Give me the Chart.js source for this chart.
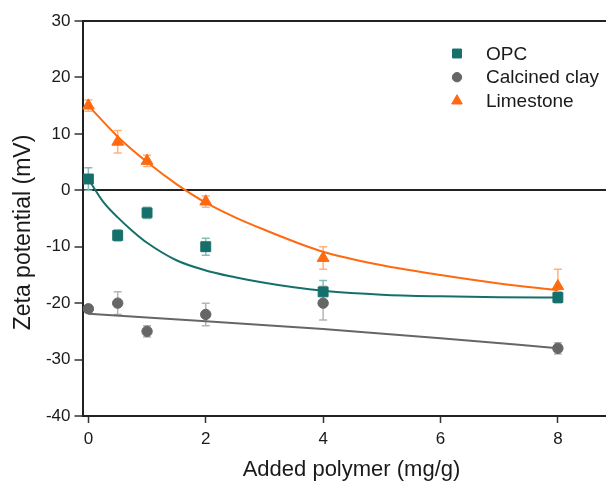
<!DOCTYPE html>
<html>
<head>
<meta charset="utf-8">
<script src="https://cdn.jsdelivr.net/npm/chart.js@4/dist/chart.umd.min.js"></script>
<style>
  html, body { margin: 0; padding: 0; background: #fff; }
  #wrap { width: 606px; height: 482px; position: relative; }
</style>
</head>
<body>
<div id="wrap"><canvas id="c" width="606" height="482"></canvas></div>
<script>
// Polymer dosage (mg/g) at which zeta potential was measured
const doses = [0, 0.5, 1, 2, 4, 8];

// Measured zeta potential (mV) and standard deviation for each powder
const opcZeta   = [2, -8, -4, -10, -18, -19];
const opcErr    = [2, 1, 1, 1.5, 2, 1];
const clayZeta  = [-21, -20, -25, -22, -20, -28];
const clayErr   = [0.6, 2, 1, 2, 3, 1];
const limeZeta  = [15, 8.6, 5.2, -2, -12, -17];
const limeErr   = [1, 2, 1, 1, 2, 3];

// Fitted trend curves
const opcFitX  = [0, 0.25, 0.5, 0.75, 1, 1.5, 2, 2.5, 3, 3.5, 4, 5, 6, 7, 8];
const opcFitY  = [2, -2, -4.8, -7.2, -9.3, -12.4, -14.2, -15.4, -16.4, -17.2, -17.8, -18.5, -18.8, -18.95, -19];
const clayFitX = [0, 2, 4, 6, 8];
const clayFitY = [-21.9, -23.2, -24.6, -26.2, -28];
const limeFitX = [0, 0.5, 1, 1.5, 2, 2.5, 3, 4, 5, 6, 7, 8];
const limeFitY = [15, 9.5, 5, 1.1, -2.2, -4.8, -7, -10.9, -13.3, -15, -16.5, -17.7];

// Axis ticks
const xTicks = [0, 2, 4, 6, 8];
const yTicks = [-40, -30, -20, -10, 0, 10, 20, 30];

const seriesNames = ['OPC', 'Calcined clay', 'Limestone'];

const FONT = "'Liberation Sans', Arial, Helvetica, sans-serif";
const TEAL = '#15706b', TEAL_ERR = '#86bbb8';
const GRAY = '#666666', GRAY_ERR = '#b5b5b5';
const ORANGE = '#ff6a10', ORANGE_ERR = '#ffb27e';

const pts = (xs, ys) => xs.map((x, i) => ({ x: x, y: ys[i] }));

function fitLine(xs, ys, color) {
  return {
    type: 'line', data: pts(xs, ys), borderColor: color, borderWidth: 2,
    pointRadius: 0, fill: false, cubicInterpolationMode: 'monotone', showLine: true,
    isFit: true
  };
}

function markers(label, ys, errs, color, errColor, style, radius) {
  return {
    type: 'scatter', label: label, data: pts(doses, ys),
    backgroundColor: color, borderColor: color, borderWidth: 1,
    pointStyle: style, pointRadius: radius, errors: errs, errColor: errColor
  };
}

// Vertical error bars with caps, drawn beneath the markers
const errorBarPlugin = {
  id: 'errorBars',
  beforeDatasetsDraw(chart) {
    const { ctx, scales: { x, y } } = chart;
    ctx.save();
    chart.data.datasets.forEach(ds => {
      if (!ds.errors) return;
      ctx.strokeStyle = ds.errColor;
      ctx.lineWidth = 1.5;
      ds.data.forEach((p, i) => {
        const e = ds.errors[i];
        const px = x.getPixelForValue(p.x);
        const top = y.getPixelForValue(p.y + e);
        const bot = y.getPixelForValue(p.y - e);
        ctx.beginPath();
        ctx.moveTo(px, top); ctx.lineTo(px, bot);
        ctx.moveTo(px - 4, top); ctx.lineTo(px + 4, top);
        ctx.moveTo(px - 4, bot); ctx.lineTo(px + 4, bot);
        ctx.stroke();
      });
    });
    ctx.restore();
  }
};

// Legend in the upper right of the plot area
const legendPlugin = {
  id: 'insideLegend',
  afterDraw(chart) {
    const { ctx, chartArea } = chart;
    const mx = chartArea.right - 149, tx = chartArea.right - 120;
    let yy = chartArea.top + 32.5;
    ctx.save();
    chart.data.datasets.filter(d => !d.isFit).forEach(ds => {
      const opts = { pointStyle: ds.pointStyle, radius: ds.pointRadius * 0.9, rotation: 0, borderWidth: 1 };
      ctx.fillStyle = ds.backgroundColor;
      ctx.strokeStyle = ds.borderColor;
      ctx.lineWidth = 1;
      Chart.helpers.drawPoint(ctx, opts, mx, yy);
      ctx.fillStyle = '#1a1a1a';
      ctx.font = '19px ' + FONT;
      ctx.textBaseline = 'middle';
      ctx.textAlign = 'left';
      ctx.fillText(ds.label, tx, yy + 1);
      yy += 23.7;
    });
    ctx.restore();
  }
};

// Axis titles
const axisTitlePlugin = {
  id: 'axisTitles',
  afterDraw(chart) {
    const { ctx, chartArea } = chart;
    ctx.save();
    ctx.fillStyle = '#1a1a1a';
    ctx.textAlign = 'center';
    ctx.textBaseline = 'middle';
    ctx.font = '22px ' + FONT;
    ctx.fillText('Added polymer (mg/g)', 351.5, chartArea.bottom + 54);
    ctx.font = '23px ' + FONT;
    ctx.translate(chartArea.left - 59, (chartArea.top + chartArea.bottom) / 2 + 14);
    ctx.rotate(-Math.PI / 2);
    ctx.fillText('Zeta potential (mV)', 0, 0);
    ctx.restore();
  }
};

new Chart(document.getElementById('c'), {
  data: {
    datasets: [
      fitLine(limeFitX, limeFitY, ORANGE),
      fitLine(opcFitX, opcFitY, TEAL),
      fitLine(clayFitX, clayFitY, GRAY),
      markers(seriesNames[0], opcZeta, opcErr, TEAL, TEAL_ERR, 'rect', 7),
      markers(seriesNames[1], clayZeta, clayErr, GRAY, GRAY_ERR, 'circle', 5.2),
      markers(seriesNames[2], limeZeta, limeErr, ORANGE, ORANGE_ERR, 'triangle', 6.8)
    ]
  },
  options: {
    responsive: false,
    animation: false,
    devicePixelRatio: 1,
    layout: { autoPadding: false, padding: { top: 21, left: 0, right: 0, bottom: 0 } },
    plugins: { legend: { display: false }, tooltip: { enabled: false } },
    scales: {
      x: {
        type: 'linear', min: -0.1, max: 8.82,
        afterBuildTicks: s => { s.ticks = xTicks.map(v => ({ value: v })); },
        afterFit: s => { s.height = 66; s.paddingLeft = 0; s.paddingRight = 0; },
        grid: { drawOnChartArea: false, drawTicks: true, tickLength: 7, tickColor: '#333', tickWidth: 1.5 },
        border: { color: '#222', width: 2 },
        ticks: { font: { family: FONT, size: 17 }, color: '#1a1a1a', padding: 6, maxRotation: 0 }
      },
      y: {
        type: 'linear', min: -40, max: 30,
        afterBuildTicks: s => { s.ticks = yTicks.map(v => ({ value: v })); },
        afterFit: s => { s.width = 82.5; },
        grid: {
          color: c => (c.tick && (c.tick.value === 0 || c.tick.value === 30)) ? '#222' : 'rgba(0,0,0,0)',
          lineWidth: 2, drawTicks: true, tickLength: 8, tickColor: '#333', tickWidth: 1.5
        },
        border: { color: '#222', width: 2 },
        ticks: { font: { family: FONT, size: 17 }, color: '#1a1a1a', padding: 4 }
      }
    }
  },
  plugins: [errorBarPlugin, legendPlugin, axisTitlePlugin]
});
</script>
</body>
</html>
